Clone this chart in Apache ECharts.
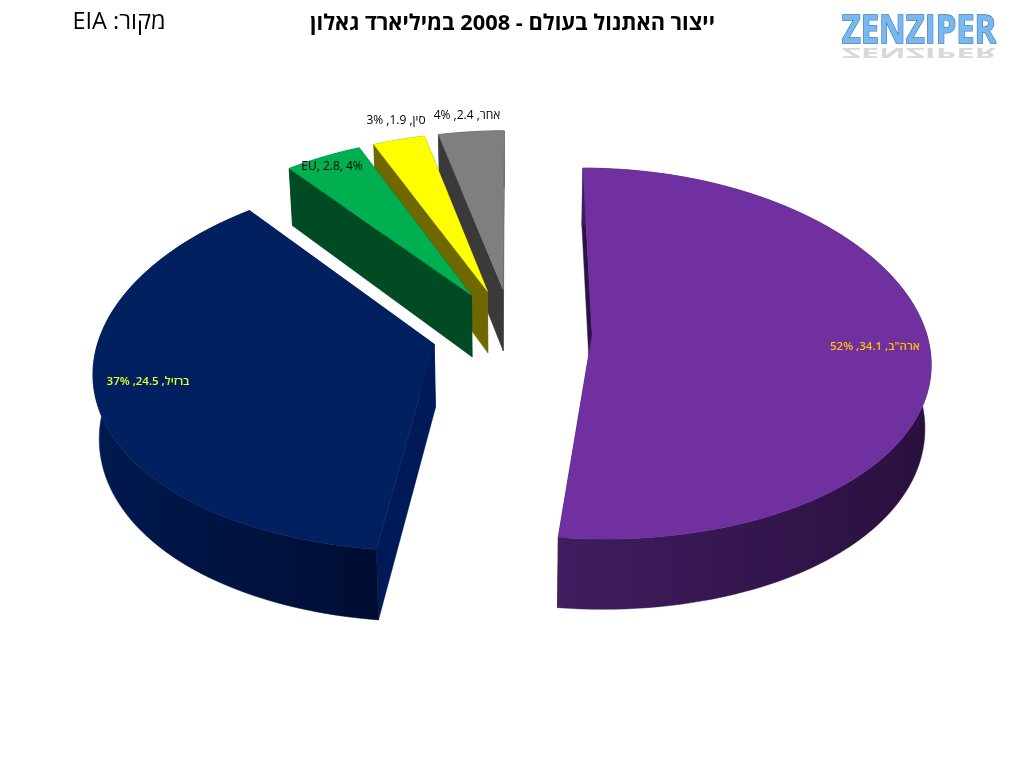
<!DOCTYPE html>
<html>
<head>
<meta charset="utf-8">
<style>html,body{margin:0;padding:0;background:#fff}#c{width:1024px;height:768px}</style>
<script src="https://cdn.jsdelivr.net/npm/echarts@6/dist/echarts.min.js"></script>
</head>
<body>
<div id="c"></div>
<script>
const categories = ['ארה"ב', 'ברזיל', 'EU', 'סין', 'אחר'];
const values = [34.1, 24.5, 2.8, 1.9, 2.4];
const percents = [52, 37, 4, 3, 4];
const titleText = 'ייצור האתנול בעולם - 2008 במיליארד גאלון';
const sourceText = '\u202Bמקור: EIA\u202C';
const logoText = 'ZENZIPER';

const topColors = ['#7030a0', '#002060', '#00b050', '#ffff00', '#7f7f7f'];
const wallColors = ['#2d1248', '#001a58', '#004b23', '#6f6800', '#3a3a3a'];
const rimFrom = ['#401d60', '#00194f', '#004b23', '#6f6800', '#3a3a3a'];
const rimTo = ['#2a103f', '#000d33', '#004b23', '#6f6800', '#3a3a3a'];
const labelColors = ['#ffc000', '#e6ff2e', '#000', '#000', '#000'];
const labelSizes = [11.5, 11.5, 12, 12, 12];
const labelAnchors = [[875, 347], [148, 382], [332, 167], [396, 121], [467, 116]];

// projection of the tilted pie plane
const CX = 512, CY = 332, RX = 334, RY = 183, PERSP = 0.102, PERSP_X = 0.13, DEPTH = 63, EXPLODE = 0.24, BASE = 0.985;
function project(X, Y, low) {
  const w = 1 - PERSP * Y;
  const k = low ? BASE : 1;
  return [CX + k * RX * X / (1 - PERSP_X * Y), CY + (RY * Y + (low ? DEPTH : 0)) / w];
}
const total = values.reduce((a, b) => a + b, 0);
const starts = [];
values.reduce((acc, v, i) => { starts[i] = acc; return acc + v; }, 0);

function renderSlice(params) {
  const i = params.dataIndex;
  const a0 = starts[i] / total * 2 * Math.PI;
  const a1 = (starts[i] + values[i]) / total * 2 * Math.PI;
  const m = (a0 + a1) / 2;
  const ox = EXPLODE * Math.sin(m), oy = -EXPLODE * Math.cos(m);
  const at = (a, low) => project(ox + Math.sin(a), oy - Math.cos(a), low);
  const apex = low => project(ox, oy, low);
  const steps = Math.max(6, Math.ceil((a1 - a0) / 0.03));
  const arcTop = [], arcLow = [];
  for (let s = 0; s <= steps; s++) {
    const a = a0 + (a1 - a0) * s / steps;
    arcTop.push(at(a, false));
    arcLow.push(at(a, true));
  }
  const z = 10 * (values.length - i) + (i < 2 ? 100 : 0);
  const xs = arcLow.map(p => p[0]);
  const rimFill = new echarts.graphic.LinearGradient(
    i === 0 ? Math.max(...xs) : Math.min(...xs), 0,
    i === 0 ? Math.min(...xs) : Math.max(...xs), 0,
    [{ offset: 0, color: i === 0 ? rimTo[i] : rimFrom[i] },
     { offset: 1, color: i === 0 ? rimFrom[i] : rimTo[i] }], true);
  const poly = (points, fill, dz) => ({
    type: 'polygon', z2: z + dz, shape: { points }, style: { fill, stroke: fill, lineWidth: 0.5 }
  });
  return {
    type: 'group',
    children: [
      poly([apex(false), arcTop[0], arcLow[0], apex(true)], wallColors[i], 0),
      poly([apex(false), arcTop[steps], arcLow[steps], apex(true)], wallColors[i], 0),
      poly(arcTop.concat(arcLow.slice().reverse()), rimFill, 1),
      poly([apex(false)].concat(arcTop), topColors[i], 2),
      {
        type: 'text', z2: 500,
        style: {
          x: labelAnchors[i][0], y: labelAnchors[i][1],
          text: categories[i] + ', ' + values[i] + ', ' + percents[i] + '%',
          fill: labelColors[i], align: 'center', verticalAlign: 'middle',
          font: (i < 2 ? '600 ' : '') + labelSizes[i] + 'px "Open Sans", "DejaVu Sans", sans-serif'
        }
      }
    ]
  };
}

const chart = echarts.init(document.getElementById('c'), null, { renderer: 'canvas' });
const logoStyle = {
  text: logoText, font: 'bold 40px "Liberation Sans Narrow", "Open Sans", sans-serif'
};
chart.setOption({
  animation: false,
  backgroundColor: '#ffffff',
  tooltip: { show: false },
  title: [
    { text: titleText, left: 507.5, top: 8, textAlign: 'center',
      textStyle: { fontFamily: '"Open Sans", "DejaVu Sans", sans-serif', fontSize: 21.8, fontWeight: 'bold', color: '#000' } },
    { text: sourceText, left: 114, top: 5, textAlign: 'center',
      textStyle: { fontFamily: '"Open Sans", "DejaVu Sans", sans-serif', fontSize: 23.5, fontWeight: 'normal', color: '#000' } }
  ],
  graphic: [
    { type: 'text', x: 919, y: 45, scaleX: 0.82, scaleY: -0.34, silent: true,
      style: Object.assign({}, logoStyle, { align: 'center', verticalAlign: 'bottom', fill: 'rgba(120,130,140,0.3)' }) },
    { type: 'text', x: 919, y: 12, scaleX: 0.82, scaleY: 1, silent: true,
      style: Object.assign({}, logoStyle, { align: 'center', verticalAlign: 'top', fill: '#79b8ee', stroke: '#3479b8', lineWidth: 1.4 }) }
  ],
  series: [{
    type: 'custom',
    coordinateSystem: 'none',
    silent: true,
    clip: false,
    renderItem: renderSlice,
    data: values.map((v, i) => ({ name: categories[i], value: [v] }))
  }]
});
</script>
</body>
</html>
